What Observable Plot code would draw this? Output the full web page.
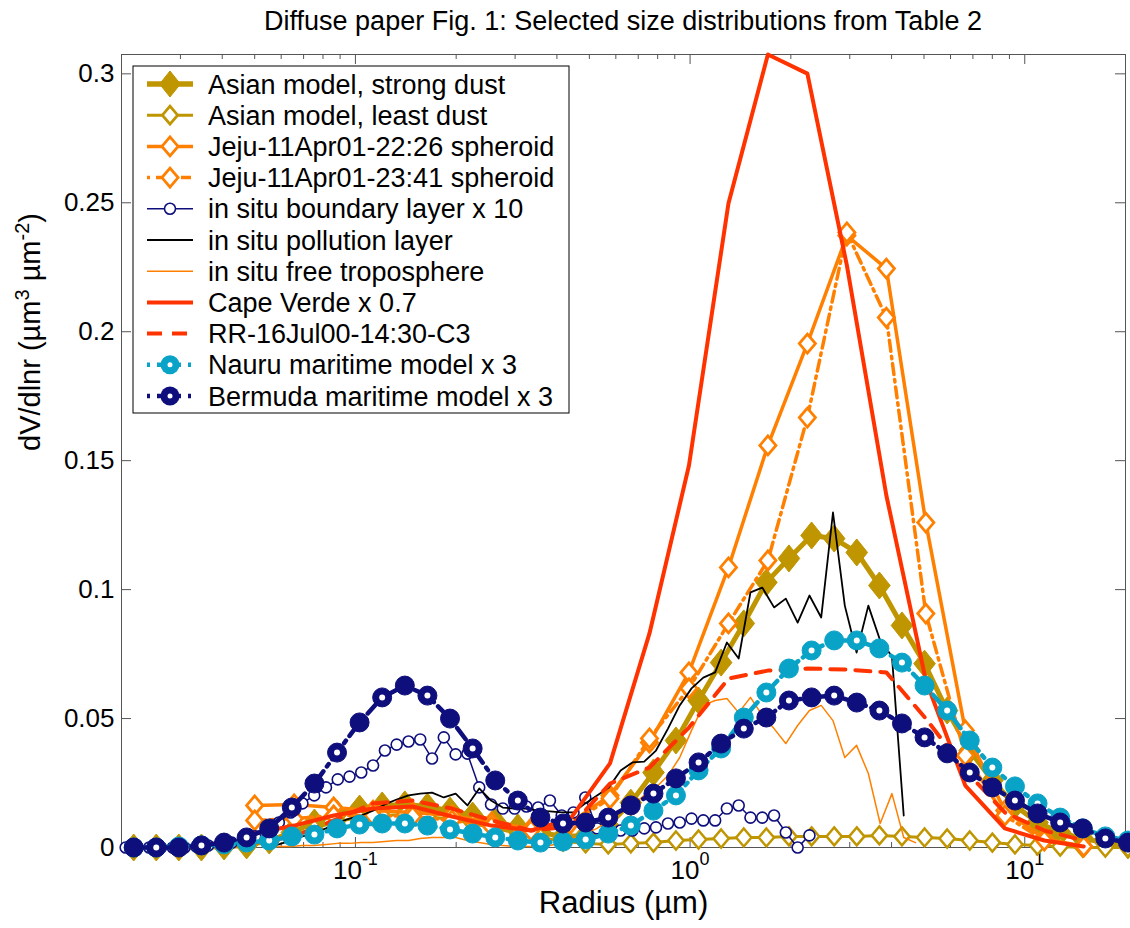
<!DOCTYPE html>
<html><head><meta charset="utf-8">
<script src="https://cdn.jsdelivr.net/npm/d3@7"></script>
<script src="https://cdn.jsdelivr.net/npm/@observablehq/plot@0.6"></script>
<style>
html,body{margin:0;padding:0;background:#fff;}
#wrap{position:relative;width:1130px;height:928px;overflow:hidden;font-family:"Liberation Sans",Arial,Helvetica,sans-serif;}
#title{position:absolute;left:123px;top:8px;width:1000px;text-align:center;font-size:27px;line-height:27px;color:#000;white-space:nowrap;}
#chart{position:absolute;left:0;top:46px;}
</style></head><body>
<div id="wrap"><div id="title"></div><div id="chart"></div></div>
<script>
// ---------- text ----------
const titleText = "Diffuse paper Fig. 1: Selected size distributions from Table 2";
const xLabel = "Radius (µm)";
const yLabel = "dV/dlnr";
const seriesNames = [
  "Asian model, strong dust",
  "Asian model, least dust",
  "Jeju-11Apr01-22:26 spheroid",
  "Jeju-11Apr01-23:41 spheroid",
  "in situ boundary layer x 10",
  "in situ pollution layer",
  "in situ free troposphere",
  "Cape Verde x 0.7",
  "RR-16Jul00-14:30-C3",
  "Nauru maritime model x 3",
  "Bermuda maritime model x 3"
];
const xTicks = [0.1, 1, 10];
const xMinorTicks = [0.02,0.03,0.04,0.05,0.06,0.07,0.08,0.09,0.2,0.3,0.4,0.5,0.6,0.7,0.8,0.9,2,3,4,5,6,7,8,9,20];
const yTicks = [0, 0.05, 0.1, 0.15, 0.2, 0.25, 0.3];

// ---------- radii (µm) ----------
const aeronetRadius = [0.05,0.0656,0.0861,0.1129,0.1482,0.1944,0.2551,0.3347,0.4392,0.5763,0.7562,0.9922,1.302,1.708,2.241,2.941,3.859,5.063,6.644,8.717,11.44,15.0];
const modelRadius = [0.02175,0.0254,0.02967,0.03466,0.0405,0.0473,0.05526,0.06456,0.07542,0.08811,0.1029,0.1202,0.1405,0.1641,0.1917,0.224,0.2617,0.3057,0.3571,0.4172,0.4874,0.5694,0.6652,0.7772,0.9073,1.06,1.238,1.447,1.69,1.974,2.307,2.695,3.148,3.678,4.296,5.019,5.863,6.849,8.001,9.348,10.92,12.76,14.9,17.41,20.34];
const insituRadius = [0.02058,0.02232,0.0242,0.02625,0.02846,0.03087,0.03347,0.0363,0.03936,0.04269,0.04629,0.0502,0.05444,0.05904,0.06403,0.06943,0.0753,0.08166,0.08855,0.09603,0.1041,0.1129,0.1225,0.1328,0.1441,0.1562,0.1694,0.1837,0.1993,0.2161,0.2344,0.2542,0.2756,0.2989,0.3242,0.3515,0.3812,0.4134,0.4483,0.4862,0.5273,0.5718,0.6201,0.6725,0.7293,0.7909,0.8588,0.9311,1.010,1.095,1.188,1.288,1.397,1.515,1.643,1.782,1.932,2.096,2.273,2.465,2.673,2.899,3.144,3.409,3.698,4.01,4.349,4.716];

// ---------- dV/dlnr values ----------
const asianStrong = [0,0,0,0,.0004,.0008,.0027,.0058,.0097,.0132,.0151,.0163,.0167,.0159,.0143,.0124,.0101,.0078,.0058,.0043,.0047,.0085,.0174,.0291,.0415,.0570,.0717,.0869,.1028,.1121,.1210,.1198,.1144,.1016,.0861,.0713,.0531,.0376,.0260,.0163,.0097,.0058,.0035,.0019,.0008];
const asianLeast = [0,0,0,0,.0004,.0008,.0023,.0047,.0074,.0101,.0116,.0124,.0128,.0120,.0109,.0093,.0074,.0054,.0039,.0023,.0016,.0012,.0016,.0019,.0027,.0031,.0035,.0039,.0039,.0043,.0043,.0043,.0043,.0047,.0043,.0039,.0035,.0027,.0019,.0012,.0008,.0004,0,0,0];
const jeju2226 = [.0163,.0167,.0155,.0143,.0136,.0124,.0097,.0074,.0097,.0202,.0407,.0679,.1086,.1559,.1954,.2373,.2245,.1260,.0454,.0143,.0035,.0004];
const jeju2341 = [.0105,.0112,.0124,.0124,.0120,.0105,.0081,.0066,.0093,.0190,.0423,.0617,.0869,.1113,.1667,.2385,.2055,.0907,.0357,.0124,.0027,.0004];
const boundaryLayer = [0,0,0,0,0,0,.0004,.0008,.0012,.0019,.0027,.0043,.0066,.0097,.0136,.0171,.0202,.0233,.0264,.0275,.0291,.0318,.0376,.0399,.0411,.0419,.0345,.0427,.0361,.0364,.0233,.0167,.0151,.0151,.0159,.0155,.0182,.0124,.0136,.0194,.0074,.0066,.0066,.0066,.0074,.0078,.0093,.0097,.0112,.0105,.0105,.0151,.0163,.0116,.0116,.0124,.0058,0,.0047];
const pollutionLayer = [0,.0012,.0027,.0043,.0054,.0074,.0097,.0112,.0124,.0143,.0167,.0186,.0202,.0209,.0213,.0194,.0209,.0163,.0229,.0182,.0155,.0151,.0151,.0143,.0140,.0136,.0136,.0171,.0202,.0233,.0299,.0330,.0333,.0376,.0461,.0551,.0617,.0659,.0679,.0795,.0733,.0989,.1008,.0931,.0965,.0872,.0977,.0892,.1299,.0938,.0756,.0938,.0803,.0741,.0124];
const freeTroposphere = [0,.0004,.0004,.0008,.0008,.0012,.0016,.0016,.0019,.0019,.0023,.0027,.0027,.0035,.0039,.0039,.0039,.0027,.0019,.0012,.0008,.0004,.0004,.0004,.0008,.0019,.0035,.0054,.0074,.0105,.0136,.0163,.0202,.0233,.0279,.0349,.0454,.0551,.0570,.0578,.0523,.0582,.0512,.0461,.0403,.0473,.0531,.0551,.0492,.0349,.0396,.0287,.0093,.0209,.0039,.0019];
const capeVerde = [.0054,.0085,.0124,.0151,.0159,.0120,.0085,.0066,.0112,.0326,.0830,.1481,.2497,.3075,.3001,.2257,.1365,.0648,.0240,.0074,.0027,.0004];
const rr16Jul00 = [.0019,.0043,.0105,.0171,.0182,.0151,.0105,.0066,.0081,.0248,.0310,.0465,.0655,.0686,.0694,.0690,.0679,.0500,.0299,.0136,.0066,.0027];
const nauru = [0,0,.0004,.0008,.0012,.0019,.0027,.0043,.0050,.0074,.0089,.0093,.0093,.0085,.0070,.0054,.0039,.0027,.0019,.0023,.0031,.0054,.0085,.0143,.0202,.0299,.0384,.0504,.0601,.0694,.0764,.0803,.0803,.0772,.0717,.0628,.0531,.0415,.0310,.0237,.0171,.0116,.0074,.0043,.0027];
const bermuda = [0,0,0,.0008,.0019,.0039,.0074,.0155,.0248,.0368,.0485,.0582,.0628,.0589,.0500,.0384,.0260,.0182,.0116,.0093,.0097,.0116,.0163,.0209,.0268,.0330,.0403,.0461,.0504,.0570,.0582,.0589,.0562,.0531,.0481,.0427,.0365,.0291,.0233,.0182,.0132,.0097,.0074,.0035,.0019];

// ---------- styling ----------
const gold = "#BF9500", orange = "#FF8000", red = "#FF3300", cyan = "#0AA3C8", navy = "#0E0E7C";
const W = 1130, H = 882, mL = 121, mR = 5, mT = 8, mB = 81;
const fw = W - mL - mR, fh = H - mT - mB;
const axisGray = "#555";

function diamondSym(k) {
  return {draw(ctx, size) {
    const h = Math.sqrt(size / Math.PI), w = h * k;
    ctx.moveTo(0, -h); ctx.lineTo(w, 0); ctx.lineTo(0, h); ctx.lineTo(-w, 0); ctx.closePath();
  }};
}
const pts = (r, v) => v.map((d, i) => ({r: r[i], v: d, i}));
const ln = (r, v, o) => Plot.line(pts(r, v), {x: "r", y: "v", ...o});
const dt = (r, v, o) => Plot.dot(pts(r, v), {x: "r", y: "v", ...o});

const pRad = insituRadius.slice(12, 67);
const fRad = insituRadius.slice(12, 68);
const bRad = insituRadius.slice(0, 59);

const chart = Plot.plot({
  width: W, height: H,
  marginLeft: mL, marginRight: mR, marginTop: mT, marginBottom: mB,
  style: {fontFamily: '"Liberation Sans", Arial, sans-serif', background: "white", overflow: "visible", color: "black"},
  x: {type: "log", domain: [0.02, 20], axis: null},
  y: {domain: [0, 0.3075], axis: null},
  marks: [
    Plot.frame({stroke: axisGray, strokeWidth: 1}),
    Plot.tickX(xTicks, {x: d => d, insetTop: fh - 10, stroke: axisGray}),
    Plot.tickX(xTicks, {x: d => d, insetBottom: fh - 10, stroke: axisGray}),
    Plot.tickX(xMinorTicks, {x: d => d, insetTop: fh - 5, stroke: axisGray}),
    Plot.tickX(xMinorTicks, {x: d => d, insetBottom: fh - 5, stroke: axisGray}),
    Plot.tickY(yTicks, {y: d => d, insetRight: fw - 10, stroke: axisGray}),
    Plot.tickY(yTicks, {y: d => d, insetLeft: fw - 10, stroke: axisGray}),
    Plot.text(yTicks, {y: d => d, frameAnchor: "left", textAnchor: "end", dx: -7, text: d => String(+d.toFixed(2)), fontSize: 26, fill: "black"}),
    Plot.text(xTicks, {x: d => d, frameAnchor: "bottom", dy: 31, text: d => "10^" + Math.round(Math.log10(d)), fontSize: 26, fill: "black"}),
    Plot.text([xLabel], {frameAnchor: "bottom", dy: 65, text: d => d, fontSize: 31, fill: "black"}),
    Plot.text([yLabel], {frameAnchor: "left", dx: -91, rotate: -90, text: d => d, fontSize: 29, fill: "black"}),

    ln(modelRadius, asianStrong, {stroke: gold, strokeWidth: 5}),
    dt(modelRadius, asianStrong, {symbol: diamondSym(0.8), r: 13.5, fill: gold, stroke: gold, strokeWidth: 1}),
    ln(modelRadius, asianLeast, {stroke: gold, strokeWidth: 3}),
    dt(modelRadius, asianLeast, {symbol: diamondSym(0.85), r: 9, fill: "white", stroke: gold, strokeWidth: 2.5}),
    ln(aeronetRadius, jeju2226, {stroke: orange, strokeWidth: 3.5}),
    dt(aeronetRadius, jeju2226, {symbol: diamondSym(0.85), r: 9.5, fill: "white", stroke: orange, strokeWidth: 2.8}),
    ln(aeronetRadius, jeju2341, {stroke: orange, strokeWidth: 3.5, strokeDasharray: "11,5,2.5,5"}),
    dt(aeronetRadius, jeju2341, {symbol: diamondSym(0.85), r: 9.5, fill: "white", stroke: orange, strokeWidth: 2.8}),
    ln(bRad, boundaryLayer, {stroke: navy, strokeWidth: 1.5}),
    dt(bRad, boundaryLayer, {r: 5.5, fill: "white", stroke: navy, strokeWidth: 1.6}),
    ln(pRad, pollutionLayer, {stroke: "black", strokeWidth: 1.8}),
    ln(fRad, freeTroposphere, {stroke: orange, strokeWidth: 1.5}),
    ln(aeronetRadius, capeVerde, {stroke: red, strokeWidth: 4}),
    ln(aeronetRadius, rr16Jul00, {stroke: red, strokeWidth: 4, strokeDasharray: "15,10"}),
    ln(modelRadius, nauru, {stroke: cyan, strokeWidth: 4.5, strokeDasharray: "14,6,3,6"}),
    dt(modelRadius, nauru, {r: 9.5, fill: cyan, stroke: cyan, strokeWidth: 1}),
    Plot.dot(pts(modelRadius, nauru).filter(d => d.i % 2 === 0), {x: "r", y: "v", r: 3, fill: "white"}),
    ln(modelRadius, bermuda, {stroke: navy, strokeWidth: 4.5, strokeDasharray: "14,6,3,6"}),
    dt(modelRadius, bermuda, {r: 9.5, fill: navy, stroke: navy, strokeWidth: 1}),
    Plot.dot(pts(modelRadius, bermuda).filter(d => d.i % 2 === 1), {x: "r", y: "v", r: 3, fill: "white"})
  ]
});

document.getElementById("title").textContent = titleText;
document.getElementById("chart").appendChild(chart);

// superscripts: rewrite text content into tspans
d3.select(chart).selectAll("text").each(function() {
  const s = this.textContent;
  const t = d3.select(this);
  if (s.startsWith("10^")) {
    const e = s.slice(3);
    t.text(null);
    t.append("tspan").text("10");
    t.append("tspan").attr("dy", -14).attr("font-size", 18).text(e);
  } else if (s === yLabel) {
    t.text(null);
    t.append("tspan").text("dV/dlnr (µm");
    t.append("tspan").attr("dy", -11).attr("font-size", 20).text("3");
    t.append("tspan").attr("dy", 11).text(" µm");
    t.append("tspan").attr("dy", -11).attr("font-size", 20).text("-2");
    t.append("tspan").attr("dy", 11).text(")");
  }
});

// legend
const styles = [
  {c: gold, w: 5.5, dash: null, m: "D", fill: true, mh: 13, mk: 0.8},
  {c: gold, w: 3, dash: null, m: "D", fill: false, mh: 9, mk: 0.85},
  {c: orange, w: 3.5, dash: null, m: "D", fill: false, mh: 9.5, mk: 0.85},
  {c: orange, w: 3.5, dash: "3,6,10,6", m: "D", fill: false, mh: 9.5, mk: 0.85},
  {c: navy, w: 1.5, dash: null, m: "o", fill: false, mr: 5.5},
  {c: "black", w: 1.8, dash: null, m: null},
  {c: orange, w: 1.5, dash: null, m: null},
  {c: red, w: 4, dash: null, m: null},
  {c: red, w: 4, dash: "15,10", m: null},
  {c: cyan, w: 4.5, dash: "3,7,24,7", m: "O", mr: 9.5},
  {c: navy, w: 4.5, dash: "3,7,24,7", m: "O", mr: 9.5}
];
const lg = d3.select(chart).append("g").attr("text-anchor", "start");
lg.append("rect").attr("x", 133).attr("y", 20).attr("width", 436).attr("height", 347)
  .attr("fill", "white").attr("stroke", "black").attr("stroke-width", 1);
seriesNames.forEach((name, i) => {
  const s = styles[i], cy = 38 + 31.2 * i;
  lg.append("line").attr("x1", 147).attr("x2", 193).attr("y1", cy).attr("y2", cy)
    .attr("stroke", s.c).attr("stroke-width", s.w).attr("stroke-dasharray", s.dash);
  if (s.m === "D") {
    const h = s.mh, w = h * s.mk;
    lg.append("path").attr("d", `M170,${cy - h}L${170 + w},${cy}L170,${cy + h}L${170 - w},${cy}Z`)
      .attr("fill", s.fill ? s.c : "white").attr("stroke", s.c).attr("stroke-width", s.fill ? 1 : 2.8);
  } else if (s.m === "o") {
    lg.append("circle").attr("cx", 170).attr("cy", cy).attr("r", s.mr).attr("fill", "white").attr("stroke", s.c).attr("stroke-width", 1.6);
  } else if (s.m === "O") {
    lg.append("circle").attr("cx", 170).attr("cy", cy).attr("r", s.mr).attr("fill", s.c);
    lg.append("circle").attr("cx", 170).attr("cy", cy).attr("r", 2.5).attr("fill", "white");
  }
  lg.append("text").attr("x", 208).attr("y", cy + 9.5).attr("text-anchor", "start")
    .attr("font-size", 27).attr("fill", "black").text(name);
});
</script></body></html>
